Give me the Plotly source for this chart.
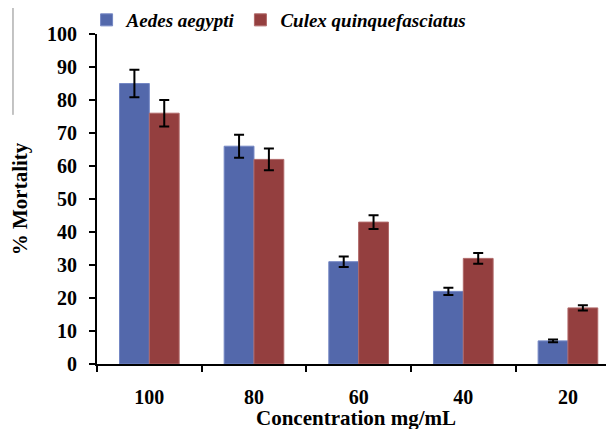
import plotly.graph_objects as go

categories = ["100", "80", "60", "40", "20"]
aedes = [85, 66, 31, 22, 7]
aedes_err = [4.2, 3.5, 1.6, 1.1, 0.4]
culex = [76, 62, 43, 32, 17]
culex_err = [4.0, 3.3, 2.1, 1.6, 0.8]
y_ticks = [0, 10, 20, 30, 40, 50, 60, 70, 80, 90, 100]
x_title = "Concentration mg/mL"
y_title = "% Mortality"

FONT = "Liberation Serif"

fig = go.Figure()
fig.add_trace(go.Bar(
    x=categories, y=aedes, name="Aedes aegypti",
    marker=dict(color="#5368AB", line=dict(color="#7487C4", width=1)),
    error_y=dict(type="data", array=aedes_err, color="black", thickness=2, width=5),
))
fig.add_trace(go.Bar(
    x=categories, y=culex, name="Culex quinquefasciatus",
    marker=dict(color="#943F3F", line=dict(color="#B06868", width=1)),
    error_y=dict(type="data", array=culex_err, color="black", thickness=2, width=5),
))

fig.update_layout(
    width=614, height=429,
    margin=dict(l=89, r=8, t=26, b=73, autoexpand=False),
    paper_bgcolor="white", plot_bgcolor="white",
    barmode="group", bargap=0.43, bargroupgap=0,
    font=dict(family=FONT, color="black", size=18),
    legend=dict(orientation="h", x=0.128, xref="container", y=0.972, yref="container",
                xanchor="left", yanchor="middle",
                font=dict(family=FONT, size=19, weight="bold", style="italic"),
                bgcolor="rgba(0,0,0,0)", itemwidth=30, tracegroupgap=0),
    xaxis=dict(
        type="category", range=[-0.5, 4.44], automargin=False,
        showline=True, linecolor="black", linewidth=2,
        ticks="outside", tickson="boundaries", ticklen=6, tickwidth=2, tickcolor="black",
        tickfont=dict(family=FONT, size=20, color="black", weight="bold"),
        ticklabelstandoff=14,
        showgrid=False, zeroline=False,
    ),
    yaxis=dict(
        range=[0, 100], tickvals=y_ticks, automargin=False,
        showline=True, linecolor="black", linewidth=2,
        ticks="outside", ticklen=6, tickwidth=2, tickcolor="black",
        tickfont=dict(family=FONT, size=20, color="black", weight="bold"),
        ticklabelstandoff=8,
        title=dict(text=y_title, font=dict(family=FONT, size=21, weight="bold"), standoff=19),
        showgrid=False, zeroline=False,
    ),
    annotations=[dict(text=x_title, xref="paper", yref="paper", x=0.5, y=-0.165,
                      xanchor="center", yanchor="middle", showarrow=False,
                      font=dict(family=FONT, size=21, weight="bold", color="black"))],
    shapes=[dict(type="line", xref="paper", yref="paper",
                 x0=-0.1625, x1=-0.1625, y0=1.103, y1=0.755,
                 line=dict(color="#888888", width=1))],
)

fig.write_html("out.html")
